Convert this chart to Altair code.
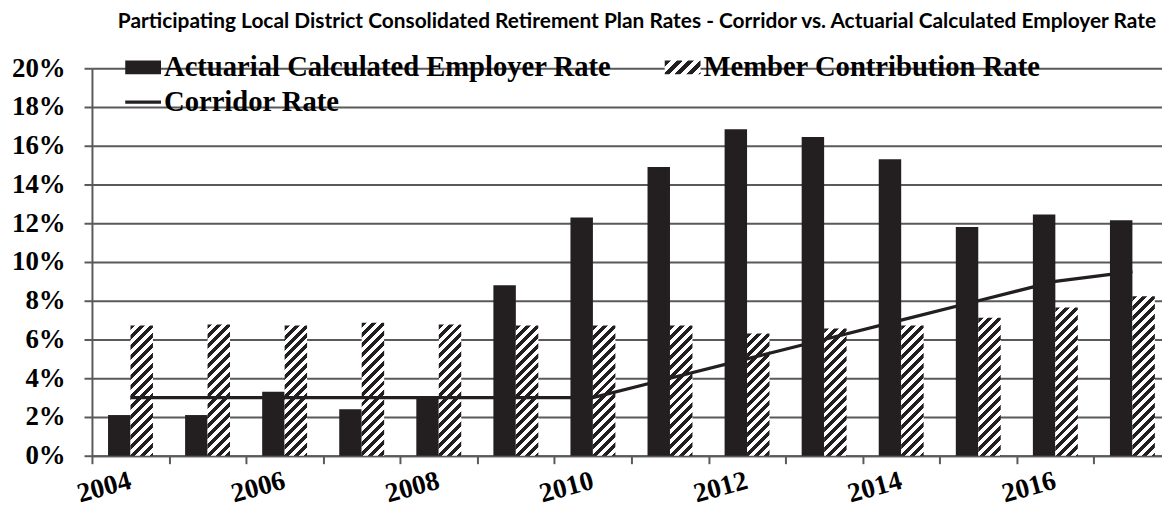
import altair as alt
import pandas as pd

# ---------------- data ----------------
YEARS = ["2004", "2005", "2006", "2007", "2008", "2009", "2010",
         "2011", "2012", "2013", "2014", "2015", "2016", "2017"]
ACTUARIAL = [2.1, 2.1, 3.3, 2.4, 3.0, 8.8, 12.3, 14.9, 16.85, 16.45, 15.3, 11.8, 12.45, 12.15]
MEMBER = [6.72, 6.78, 6.72, 6.86, 6.78, 6.72, 6.72, 6.72, 6.31, 6.57, 6.72, 7.12, 7.65, 8.23]
CORRIDOR = [3.0, 3.0, 3.0, 3.0, 3.0, 3.0, 3.0, 4.0, 5.0, 6.0, 7.0, 8.0, 9.0, 9.5]
SERIES = ["Actuarial Calculated Employer Rate", "Member Contribution Rate", "Corridor Rate"]
Y_TICKS = [0, 2, 4, 6, 8, 10, 12, 14, 16, 18, 20]
TITLE = ("Participating Local District Consolidated Retirement Plan Rates - "
         "Corridor vs. Actuarial Calculated Employer Rate")

# ---------------- styling / layout ----------------
INK = "#231f20"
GRID = "#5a5a5a"
SERIF = "Liberation Serif"
FULL_W = 1086          # pixel span of the 14 year bands (last one runs off the page)
VIEW_W = 1077          # visible plot width
VIEW_H = 390
Y_MAX = 20
OFF_PAD = 0.716
BAR_W = FULL_W / len(YEARS) / (2 + 2 * OFF_PAD)
RECT = "M-1,-0.39H1V0.39H-1Z"
THIN = "M-1,-0.09H1V0.09H-1Z"


def hatch(w, h, period=10.0, frac=0.5):
    """Diagonal '/' stripes as a hard-stop linear gradient (bbox units)."""
    L = w + h
    k = L / (w * w + h * h)
    stops = []
    pos = 0.0
    while pos < L - 1e-9:
        a = round(pos / L, 5)
        b = round(min((pos + frac * period) / L, 1.0), 5)
        c = round(min((pos + period) / L, 1.0), 5)
        stops += [{"offset": a, "color": INK}, {"offset": b, "color": INK},
                  {"offset": b, "color": "#ffffff"}, {"offset": c, "color": "#ffffff"}]
        pos += period
    return {"gradient": "linear", "x1": 0, "y1": 0,
            "x2": round(w * k, 5), "y2": round(h * k, 5), "stops": stops}


def grad_expr(g):
    stops = ", ".join("{offset: %s, color: '%s'}" % (s["offset"], s["color"]) for s in g["stops"])
    return ("{gradient: 'linear', x1: 0, y1: 0, x2: %s, y2: %s, stops: [%s]}"
            % (g["x2"], g["y2"], stops))


x_axis = alt.Axis(
    tickBand="extent",
    labelExpr="toNumber(datum.value) % 2 == 0 ? datum.value : ''",
    labelAngle=345, labelAlign="right", labelBaseline="top",
    labelFont=SERIF, labelFontSize=27.5, labelFontWeight="bold", labelColor="black",
    labelPadding=3, labelOffset=-4, labelOverlap=False, labelFlush=False,
    tickSize=8, tickColor=GRID, tickWidth=2,
    domainColor=GRID, domainWidth=2, grid=False, title=None,
)
y_axis = alt.Axis(
    values=Y_TICKS, labelExpr="datum.value + '%'",
    labelFont=SERIF, labelFontSize=27, labelFontWeight="bold", labelColor="black",
    labelPadding=19, tickSize=8, tickColor=GRID, tickWidth=2,
    domainColor=GRID, domainWidth=2,
    grid=True, gridColor=GRID, gridWidth=1.8, title=None,
)

x_enc = alt.X("year:O", scale=alt.Scale(domain=YEARS, range=[0, FULL_W],
                                        paddingInner=0, paddingOuter=0), axis=x_axis)
xoff_enc = alt.XOffset("series:N", scale=alt.Scale(domain=SERIES[:2], paddingInner=0,
                                                   paddingOuter=OFF_PAD))
y_enc = alt.Y("value:Q", scale=alt.Scale(domain=[0, Y_MAX], nice=False), axis=y_axis)

act_df = pd.DataFrame({"year": YEARS, "series": SERIES[0], "value": ACTUARIAL})
mem_df = pd.DataFrame({"year": YEARS, "series": SERIES[1], "value": MEMBER})
cor_df = pd.DataFrame({"year": YEARS, "series": SERIES[2], "value": CORRIDOR})
leg_df = pd.DataFrame({"series": SERIES})

layers = [alt.Chart(act_df).mark_bar(color=INK).encode(x=x_enc, xOffset=xoff_enc, y=y_enc)]

for yr, v in zip(YEARS, MEMBER):
    h_px = v / Y_MAX * VIEW_H
    layers.append(
        alt.Chart(mem_df).transform_filter(alt.datum.year == yr)
        .mark_bar(color=hatch(BAR_W, h_px))
        .encode(x=x_enc, xOffset=xoff_enc, y=y_enc)
    )

layers.append(
    alt.Chart(cor_df).mark_line(strokeWidth=3.3, color=INK).encode(x=x_enc, y=y_enc)
)

legend = alt.Legend(
    title=None, orient="none", legendX=33.5, legendY=-19, values=SERIES,
    direction="horizontal", columns=2, columnPadding=53, rowPadding=2, padding=0,
    symbolSize=1296, symbolOpacity=1, symbolStrokeWidth=0,
    labelFont=SERIF, labelFontSize=28.8, labelFontWeight="bold", labelColor="black",
    labelOffset=3, labelLimit=1000,
)
legend_hatch = alt.ExprRef(expr=grad_expr(hatch(36, 14, period=12)))
layers.append(
    alt.Chart(leg_df).mark_point(filled=True, opacity=0, size=1296).encode(
        color=alt.Color("series:N", sort=SERIES,
                        scale=alt.Scale(domain=SERIES, range=[INK, legend_hatch, INK]),
                        legend=legend),
        shape=alt.Shape("series:N", sort=SERIES,
                        scale=alt.Scale(domain=SERIES, range=[RECT, RECT, THIN]),
                        legend=legend),
    )
)

chart = alt.layer(*layers).properties(
    width=VIEW_W, height=VIEW_H,
    title=alt.TitleParams(TITLE, font="Lato", fontSize=21, fontWeight="bold",
                          color="black", anchor="middle", dx=10, dy=-14),
    autosize=alt.AutoSizeParams(type="none"),
    padding={"left": 84.5, "top": 59, "right": 0, "bottom": 57},
).configure_view(stroke=None)

chart.save("out.html", embed_options={"renderer": "svg", "actions": False})
